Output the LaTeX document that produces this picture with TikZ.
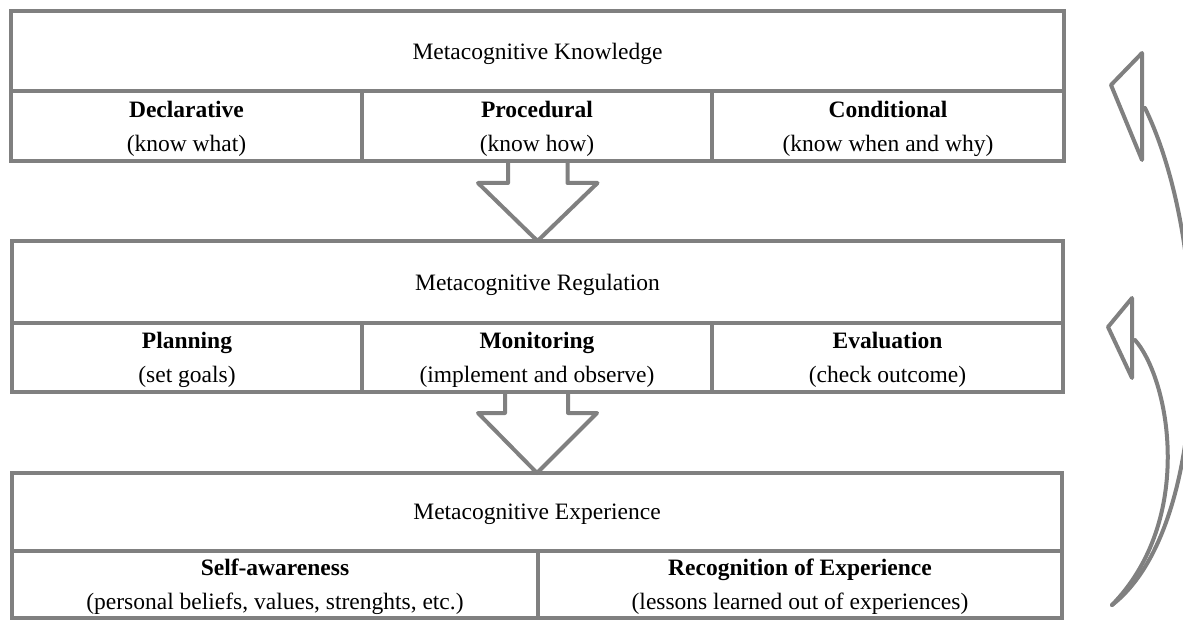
\documentclass[tikz,border=0pt]{standalone}
\usepackage{fontspec}
\setmainfont{Liberation Serif}
\begin{document}
\begin{tikzpicture}[x=1pt,y=-1pt,
  cell/.style={draw=gray, line width=4pt, inner sep=0pt, outer sep=0pt, align=center,
    text depth=-1pt, font=\fontsize{23.5}{34}\selectfont},
  blockarrow/.style={draw=gray, line width=4pt, line join=round},
  cyc/.style={draw=gray, line width=4pt, line join=round, line cap=round}]
\useasboundingbox (0,0) rectangle (1183,620);
% Box 1
\node[cell, minimum width=1053pt, minimum height=80pt] (kt) at (537.5,51) {Metacognitive Knowledge};
\node[cell, minimum width=351pt, minimum height=70pt] (k1) at (186.5,126) {\textbf{Declarative}\\(know what)};
\node[cell, minimum width=350pt, minimum height=70pt] (k2) at (537,126) {\textbf{Procedural}\\(know how)};
\node[cell, minimum width=352pt, minimum height=70pt] (k3) at (888,126) {\textbf{Conditional}\\(know when and why)};
% Box 2
\node[cell, minimum width=1051pt, minimum height=82pt] (rt) at (537.5,282) {Metacognitive Regulation};
\node[cell, minimum width=350pt, minimum height=69pt] (r1) at (187,357.5) {\textbf{Planning}\\(set goals)};
\node[cell, minimum width=350pt, minimum height=69pt] (r2) at (537,357.5) {\textbf{Monitoring}\\(implement and observe)};
\node[cell, minimum width=351pt, minimum height=69pt] (r3) at (887.5,357.5) {\textbf{Evaluation}\\(check outcome)};
% Box 3
\node[cell, minimum width=1050pt, minimum height=78pt] (et) at (537,512) {Metacognitive Experience};
\node[cell, minimum width=526pt, minimum height=67pt] (e1) at (275,584.5) {\textbf{Self-awareness}\\(personal beliefs, values, strenghts, etc.)};
\node[cell, minimum width=524pt, minimum height=67pt] (e2) at (800,584.5) {\textbf{Recognition of Experience}\\(lessons learned out of experiences)};
% block arrows
\draw[blockarrow] (k2.south) ++(-29,0) -- ++(0,22) -- ++(-30,0) -- (rt.north) -- ++(60,-58) -- ++(-30,0) -- ++(0,-22);
\draw[blockarrow] (r2.south) ++(-32,0) -- ++(0,21) -- ++(-27,0) -- (et.north) -- ++(60,-60) -- ++(-29,0) -- ++(0,-21);
% curved arrows
\coordinate (ctop) at (1145,108);
\coordinate (cbot) at (1135,340);
\coordinate (cend) at (1112,605);
\draw[cyc] (1142,53) -- (1111,85) -- (1142,160) -- cycle;
\draw[cyc] (ctop) .. controls (1175,170) and (1192,260) .. (1192,350) .. controls (1192,450) and (1170,560) .. (cend);
\draw[cyc] (1132,298) -- (1108,327) -- (1132,378) -- cycle;
\draw[cyc] (cbot) .. controls (1170,380) and (1195,520) .. (cend);
\end{tikzpicture}
\end{document}
